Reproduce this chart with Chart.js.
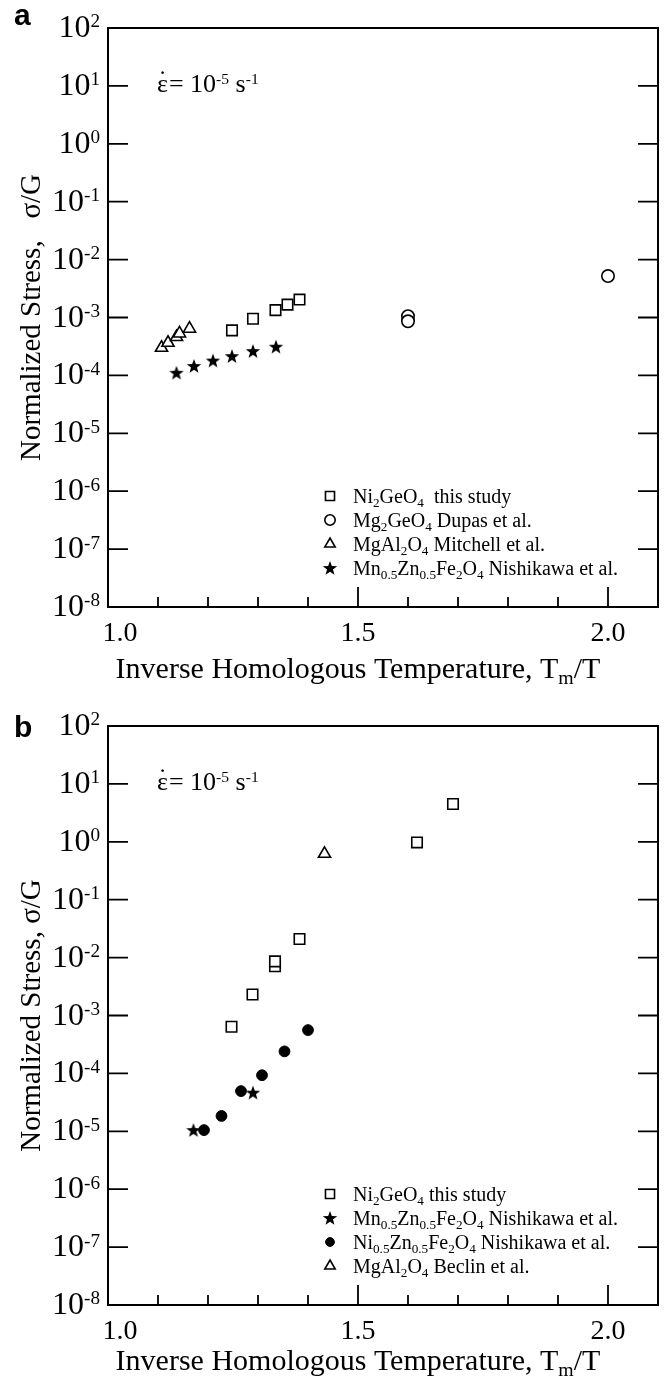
<!DOCTYPE html>
<html>
<head>
<meta charset="utf-8">
<script src="https://cdn.jsdelivr.net/npm/chart.js@4.4.1/dist/chart.umd.min.js"></script>
<style>
  body { margin: 0; background: #fff; }
  canvas { display: block; }
</style>
</head>
<body>
<canvas id="chart-a" width="667" height="690"></canvas>
<canvas id="chart-b" width="667" height="689"></canvas>
<script>
// ---- panel a ----
var niGeX_a = [1.248, 1.290, 1.335, 1.359, 1.383];
var niGeY_a = [6.0e-4, 9.5e-4, 1.34e-3, 1.67e-3, 2.04e-3];
var mgGeX_a = [1.6, 1.6, 2.0];
var mgGeY_a = [1.05e-3, 8.6e-4, 5.2e-3];
var mgAlX_a = [1.107, 1.120, 1.137, 1.143, 1.163];
var mgAlY_a = [3.0e-4, 3.66e-4, 4.6e-4, 5.3e-4, 6.4e-4];
var mnZnX_a = [1.137, 1.172, 1.210, 1.248, 1.290, 1.336];
var mnZnY_a = [1.11e-4, 1.45e-4, 1.8e-4, 2.15e-4, 2.63e-4, 3.13e-4];
var legend_a = ['Ni_{2}GeO_{4}  this study', 'Mg_{2}GeO_{4} Dupas et al.', 'MgAl_{2}O_{4} Mitchell et al.', 'Mn_{0.5}Zn_{0.5}Fe_{2}O_{4} Nishikawa et al.'];

// ---- panel b ----
var niGeX_b = [1.247, 1.289, 1.334, 1.334, 1.383, 1.618, 1.690];
var niGeY_b = [6.4e-4, 2.3e-3, 7.1e-3, 8.6e-3, 2.1e-2, 0.975, 4.5];
var mnZnX_b = [1.171, 1.290];
var mnZnY_b = [1.05e-5, 4.65e-5];
var niZnX_b = [1.192, 1.227, 1.266, 1.308, 1.353, 1.400];
var niZnY_b = [1.05e-5, 1.84e-5, 4.95e-5, 9.3e-5, 2.4e-4, 5.6e-4];
var beclinX_b = [1.433];
var beclinY_b = [0.62];
var legend_b = ['Ni_{2}GeO_{4} this study', 'Mn_{0.5}Zn_{0.5}Fe_{2}O_{4} Nishikawa et al.', 'Ni_{0.5}Zn_{0.5}Fe_{2}O_{4} Nishikawa et al.', 'MgAl_{2}O_{4} Beclin et al.'];

// ---- axes ----
var xMajor = [1.0, 1.5, 2.0];
var xMajorLabels = ['1.0', '1.5', '2.0'];
var xMinor = [1.1, 1.2, 1.3, 1.4, 1.6, 1.7, 1.8, 1.9];
var yExponents = [2, 1, 0, -1, -2, -3, -4, -5, -6, -7, -8];
var xTitle = 'Inverse Homologous Temperature, T_{m}/T';
var rateSymbol = '\u03B5';
var rateText = '= 10^{-5} s^{-1}';

var SERIF = '"Liberation Serif", "Times New Roman", serif';

function pts(xs, ys) {
  return xs.map(function (x, i) { return { x: x, y: ys[i] }; });
}

// filled five-pointed star used as a point style
var starImg = document.createElement('canvas');
starImg.width = 16; starImg.height = 16;
(function () {
  var c = starImg.getContext('2d');
  c.beginPath();
  for (var i = 0; i < 10; i++) {
    var r = i % 2 === 0 ? 7.6 : 3.1;
    var a = -Math.PI / 2 + i * Math.PI / 5;
    c.lineTo(8 + r * Math.cos(a), 8.6 + r * Math.sin(a));
  }
  c.closePath();
  c.fillStyle = '#000';
  c.fill();
})();

var styles = {
  square:   { pointStyle: 'rect', pointRadius: 7.4, backgroundColor: '#fff', borderColor: '#000', borderWidth: 1.6 },
  circle:   { pointStyle: 'circle', pointRadius: 6.2, backgroundColor: '#fff', borderColor: '#000', borderWidth: 1.6 },
  triangle: { pointStyle: 'triangle', pointRadius: 7, backgroundColor: '#fff', borderColor: '#000', borderWidth: 1.6 },
  star:     { pointStyle: starImg, pointRadius: 8, backgroundColor: '#000', borderColor: '#000', borderWidth: 0 },
  dot:      { pointStyle: 'circle', pointRadius: 5.4, backgroundColor: '#000', borderColor: '#000', borderWidth: 1 }
};

function dataset(data, kind) {
  var s = styles[kind];
  return {
    data: data,
    showLine: false,
    pointStyle: s.pointStyle,
    pointRadius: s.pointRadius,
    pointBackgroundColor: s.backgroundColor,
    pointBorderColor: s.borderColor,
    pointBorderWidth: s.borderWidth,
    kind: kind
  };
}

// text with _{sub} and ^{sup} runs
function richText(ctx, str, x, y, size, align) {
  var runs = str.split(/([_^]\{[^}]*\})/).filter(Boolean).map(function (p) {
    if (p[0] === '_') return { t: p.slice(2, -1), s: size * 0.66, dy: size * 0.2 };
    if (p[0] === '^') return { t: p.slice(2, -1), s: size * 0.6, dy: -size * 0.3 };
    return { t: p, s: size, dy: 0 };
  });
  var w = 0;
  runs.forEach(function (r) {
    ctx.font = r.s + 'px ' + SERIF;
    r.w = ctx.measureText(r.t).width;
    w += r.w;
  });
  var cx = align === 'right' ? x - w : align === 'center' ? x - w / 2 : x;
  ctx.textAlign = 'left';
  ctx.textBaseline = 'alphabetic';
  runs.forEach(function (r) {
    ctx.font = r.s + 'px ' + SERIF;
    ctx.fillText(r.t, cx, y + r.dy);
    cx += r.w;
  });
  return w;
}

var framePlugin = {
  id: 'frame',
  afterDraw: function (chart) {
    var o = chart.options.plugins.frame;
    var ctx = chart.ctx;
    var xs = chart.scales.x, ys = chart.scales.y;
    var a = chart.chartArea;
    ctx.save();
    ctx.strokeStyle = '#000';
    ctx.fillStyle = '#000';

    // box
    ctx.lineWidth = 2;
    ctx.strokeRect(a.left, a.top, a.right - a.left, a.bottom - a.top);

    // y ticks, both sides, pointing inward
    ctx.lineWidth = 1.8;
    yExponents.forEach(function (e) {
      var py = ys.getPixelForValue(Math.pow(10, e));
      ctx.beginPath();
      ctx.moveTo(a.left, py); ctx.lineTo(a.left + 20, py);
      ctx.moveTo(a.right, py); ctx.lineTo(a.right - 20, py);
      ctx.stroke();
      richText(ctx, '10^{' + e + '}', a.left - 8, py + 9, 32, 'right');
    });

    // x ticks on the bottom
    xMajor.forEach(function (v, i) {
      var px = xs.getPixelForValue(v);
      ctx.beginPath();
      ctx.moveTo(px, a.bottom); ctx.lineTo(px, a.bottom - 20);
      ctx.stroke();
      richText(ctx, xMajorLabels[i], px + (i === 0 ? 12 : 0), a.bottom + 34, 28, 'center');
    });
    xMinor.forEach(function (v) {
      var px = xs.getPixelForValue(v);
      ctx.beginPath();
      ctx.moveTo(px, a.bottom); ctx.lineTo(px, a.bottom - 10);
      ctx.stroke();
    });

    // axis titles
    richText(ctx, xTitle, xs.getPixelForValue(1.5), a.bottom + o.xTitleOffset, 30, 'center');
    ctx.save();
    ctx.translate(30, (a.top + a.bottom) / 2);
    ctx.rotate(-Math.PI / 2);
    richText(ctx, o.yTitle, 0, 10, 29, 'center');
    ctx.restore();

    // strain rate note: epsilon with a dot above it
    var base = a.top + 64;
    var ew = richText(ctx, rateSymbol, 157, base, 26, 'left');
    ctx.font = '26px ' + SERIF;
    ctx.textAlign = 'center';
    ctx.fillText('\u02D9', 157 + ew / 2, base - 4);
    richText(ctx, rateText, 157 + ew + 1, base, 26, 'left');

    // panel letter
    ctx.font = 'bold 30px "Liberation Sans", Arial, sans-serif';
    ctx.textAlign = 'left';
    ctx.textBaseline = 'alphabetic';
    ctx.fillText(o.letter, 14, o.letterY);

    // legend
    chart.data.datasets.forEach(function (ds, i) {
      var s = styles[ds.kind];
      var cy = a.top + 468 + i * 24;
      ctx.fillStyle = s.backgroundColor;
      ctx.strokeStyle = s.borderColor;
      ctx.lineWidth = s.borderWidth;
      Chart.helpers.drawPoint(ctx, {
        pointStyle: s.pointStyle,
        radius: ds.kind === 'star' ? 8 : s.pointRadius - 1,
        rotation: 0,
        borderWidth: s.borderWidth
      }, 330, cy);
      ctx.fillStyle = '#000';
      richText(ctx, o.legend[i], 353, cy + 7, 20, 'left');
    });
    ctx.restore();
  }
};

function makePanel(id, datasets, frame, padding) {
  return new Chart(document.getElementById(id), {
    type: 'scatter',
    data: { datasets: datasets },
    options: {
      responsive: false,
      animation: false,
      events: [],
      layout: { padding: padding },
      scales: {
        x: { type: 'linear', min: 1.0, max: 2.1, display: false },
        y: { type: 'logarithmic', min: 1e-8, max: 1e2, display: false }
      },
      plugins: {
        legend: { display: false },
        tooltip: { enabled: false },
        frame: frame
      }
    },
    plugins: [framePlugin]
  });
}

makePanel('chart-a', [
  dataset(pts(niGeX_a, niGeY_a), 'square'),
  dataset(pts(mgGeX_a, mgGeY_a), 'circle'),
  dataset(pts(mgAlX_a, mgAlY_a), 'triangle'),
  dataset(pts(mnZnX_a, mnZnY_a), 'star')
], {
  letter: 'a', letterY: 25, legend: legend_a, xTitleOffset: 71,
  yTitle: 'Normalized Stress,   \u03C3/G'
}, { left: 108, top: 28, right: 7, bottom: 83 });

makePanel('chart-b', [
  dataset(pts(niGeX_b, niGeY_b), 'square'),
  dataset(pts(mnZnX_b, mnZnY_b), 'star'),
  dataset(pts(niZnX_b, niZnY_b), 'dot'),
  dataset(pts(beclinX_b, beclinY_b), 'triangle')
], {
  letter: 'b', letterY: 47, legend: legend_b, xTitleOffset: 65,
  yTitle: 'Normalized Stress, \u03C3/G'
}, { left: 108, top: 36, right: 7, bottom: 74 });
</script>
</body>
</html>
